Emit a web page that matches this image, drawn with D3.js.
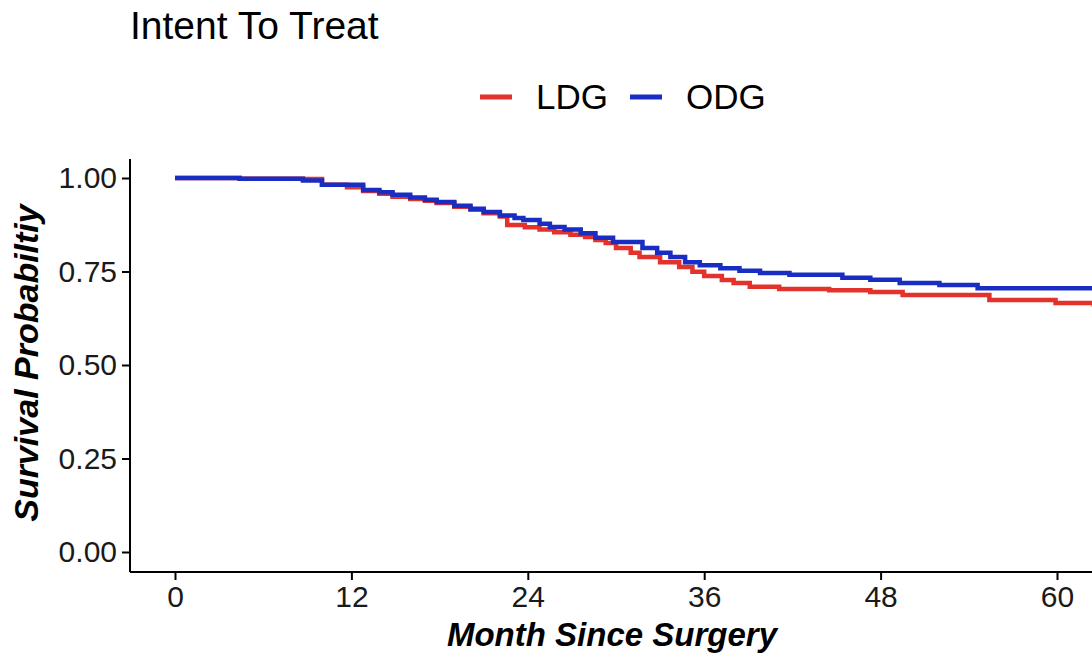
<!DOCTYPE html>
<html>
<head>
<meta charset="utf-8">
<script src="https://cdn.jsdelivr.net/npm/d3@7"></script>
<style>
  html, body { margin: 0; padding: 0; background: #fff; }
  svg { display: block; font-family: 'Liberation Sans', Arial, sans-serif; }
</style>
</head>
<body>
<div id="chart"></div>
<script>
// step curves (months, survival probability)
const ldgMonths = [0, 4.4, 8.7, 10.0, 11.7, 12.8, 13.9, 14.8, 16.0, 17.0, 17.8, 19.0, 20.1, 21.0, 22.1, 22.6, 23.8, 24.8, 25.8, 26.9, 27.9, 28.6, 29.3, 30.0, 31.0, 31.6, 33.0, 34.3, 35.2, 36.0, 37.2, 38.0, 39.1, 41.1, 44.5, 47.3, 49.5, 55.4, 59.9, 62.5]
const ldgSurv = [1.000, 0.998, 0.997, 0.982, 0.975, 0.965, 0.958, 0.950, 0.944, 0.939, 0.933, 0.923, 0.915, 0.906, 0.897, 0.874, 0.868, 0.862, 0.855, 0.848, 0.842, 0.834, 0.826, 0.813, 0.800, 0.789, 0.775, 0.762, 0.749, 0.738, 0.727, 0.719, 0.709, 0.703, 0.700, 0.695, 0.687, 0.674, 0.666, 0.662]
const odgMonths = [0, 4.4, 8.7, 10.0, 12.8, 13.9, 14.8, 16.0, 17.0, 17.8, 19.0, 20.1, 21.0, 22.1, 23.1, 23.7, 24.8, 25.5, 26.5, 27.6, 28.6, 29.8, 31.8, 32.8, 33.7, 34.7, 35.7, 37.1, 38.4, 39.8, 41.8, 45.4, 47.3, 49.3, 52.0, 54.6]
const odgSurv = [1.000, 0.998, 0.993, 0.982, 0.968, 0.962, 0.955, 0.948, 0.942, 0.936, 0.926, 0.918, 0.909, 0.900, 0.893, 0.888, 0.878, 0.869, 0.862, 0.852, 0.840, 0.829, 0.813, 0.800, 0.789, 0.775, 0.767, 0.759, 0.752, 0.746, 0.741, 0.733, 0.728, 0.719, 0.714, 0.705]

const groups = ['LDG', 'ODG']
const groupColors = ['#e3312b', '#1a2dc2']
const xTicks = [0, 12, 24, 36, 48, 60]
const yTicks = [0, 0.25, 0.5, 0.75, 1]

const width = 1092
const height = 659
const panel = { left: 130, top: 159, bottom: 572, right: 1120 }

const svg = d3.select('#chart')
  .append('svg')
  .attr('width', width)
  .attr('height', height)
  .attr('viewBox', [0, 0, width, height].join(' '))

const x = d3.scaleLinear().domain([0, 60]).range([175, 1057])
const y = d3.scaleLinear().domain([0, 1]).range([552, 178])

svg.append('defs').append('clipPath').attr('id', 'panel')
  .append('rect')
  .attr('x', panel.left).attr('y', panel.top)
  .attr('width', panel.right - panel.left).attr('height', panel.bottom - panel.top)

// curves
const series = [
  { name: groups[0], color: groupColors[0], pts: ldgMonths.map((m, i) => [m, ldgSurv[i]]) },
  { name: groups[1], color: groupColors[1], pts: odgMonths.map((m, i) => [m, odgSurv[i]]) }
]
series.forEach(s => {
  const last = s.pts[s.pts.length - 1]
  s.pts.push([64.3, last[1]]) // carry to the panel edge
})

const line = d3.line()
  .x(d => x(d[0]))
  .y(d => y(d[1]))
  .curve(d3.curveStepAfter)

svg.append('g')
  .attr('clip-path', 'url(#panel)')
  .selectAll('path.curve')
  .data(series)
  .join('path')
  .attr('class', 'curve')
  .attr('fill', 'none')
  .attr('stroke', d => d.color)
  .attr('stroke-width', 4.5)
  .attr('d', d => line(d.pts))

// axes
const xAxis = g => g
  .attr('transform', `translate(0,${panel.bottom})`)
  .call(d3.axisBottom(x).tickValues(xTicks).tickSize(8).tickPadding(6).tickSizeOuter(0))
  .call(g => g.select('.domain').attr('d', `M${panel.left},0H${panel.right}`))

const yAxis = g => g
  .attr('transform', `translate(${panel.left},0)`)
  .call(d3.axisLeft(y).tickValues(yTicks).tickFormat(d3.format('.2f')).tickSize(8).tickPadding(5).tickSizeOuter(0))
  .call(g => g.select('.domain').attr('d', `M0,${panel.top}V${panel.bottom}`))

svg.append('g').call(xAxis)
svg.append('g').call(yAxis)

svg.selectAll('.domain').attr('stroke', '#000').attr('stroke-width', 2)
svg.selectAll('.tick line').attr('stroke', '#000').attr('stroke-width', 2)
svg.selectAll('.tick text')
  .attr('fill', '#1a1a1a')
  .style('font-size', '30px')
  .style('font-family', "'Liberation Sans', Arial, sans-serif")

// titles
svg.append('text')
  .attr('x', 130).attr('y', 39)
  .style('font-size', '39px')
  .attr('fill', '#000')
  .text('Intent To Treat')

svg.append('text')
  .attr('x', 612).attr('y', 646)
  .attr('text-anchor', 'middle')
  .style('font-size', '33px')
  .style('font-weight', 'bold')
  .style('font-style', 'italic')
  .text('Month Since Surgery')

svg.append('text')
  .attr('transform', 'translate(38,363) rotate(-90)')
  .attr('text-anchor', 'middle')
  .style('font-size', '34px')
  .style('font-weight', 'bold')
  .style('font-style', 'italic')
  .text('Survival Probabiltiy')

// legend
const legendX = [480, 630]
const legend = svg.append('g')
  .selectAll('g.key')
  .data(groups)
  .join('g')
  .attr('class', 'key')
  .attr('transform', (d, i) => `translate(${legendX[i]},97)`)

legend.append('line')
  .attr('x1', 0).attr('x2', 32)
  .attr('stroke', (d, i) => groupColors[i])
  .attr('stroke-width', 5)

legend.append('text')
  .attr('x', 56).attr('y', 12)
  .style('font-size', '35px')
  .attr('fill', '#000')
  .text(d => d)
</script>
</body>
</html>
